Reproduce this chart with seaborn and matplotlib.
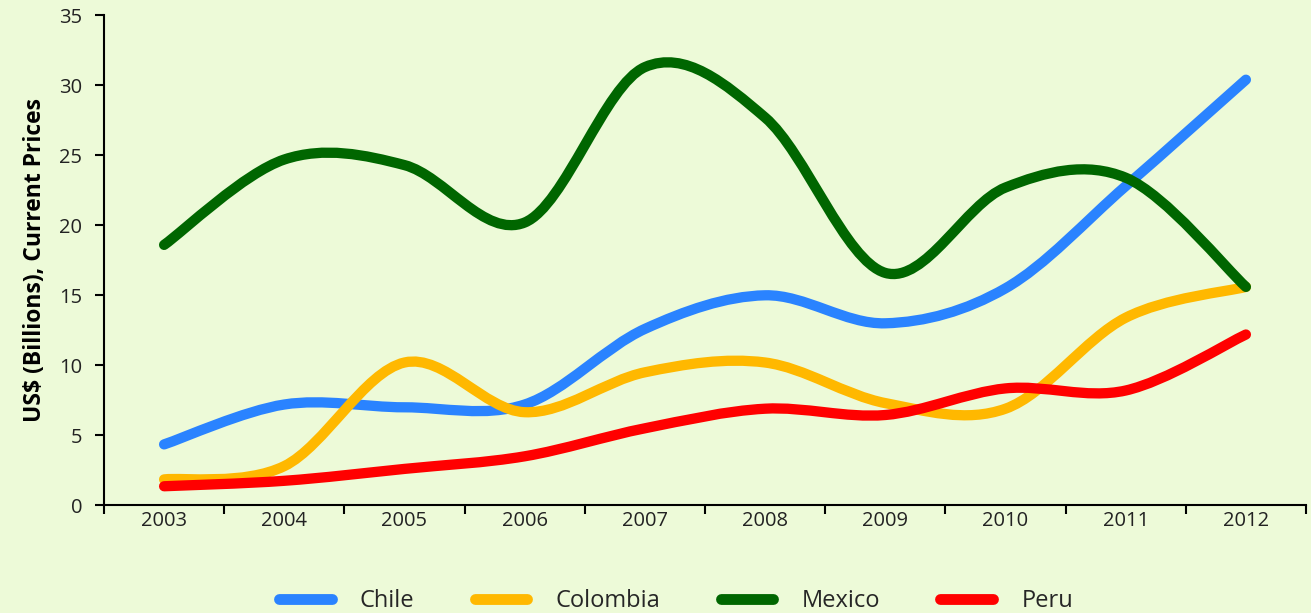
"""
plot.py
Foreign direct investment inflows, Pacific Alliance countries, 2003-2012.
Smooth (Catmull-Rom) lines through the yearly values.
"""

import numpy as np
import pandas as pd
import matplotlib
matplotlib.use("Agg")
import matplotlib.pyplot as plt
from matplotlib.path import Path
from matplotlib.patches import PathPatch
from matplotlib.lines import Line2D
import seaborn as sns

# ── Data ──────────────────────────────────────────────────────────────────────
YEARS = ["2003", "2004", "2005", "2006", "2007",
         "2008", "2009", "2010", "2011", "2012"]
CHILE    = [4.35, 7.2, 7.0, 7.2, 12.6, 15.0, 13.0, 15.5, 22.8, 30.4]
COLOMBIA = [1.85, 2.8, 10.2, 6.65, 9.5, 10.2, 7.3, 6.9, 13.4, 15.6]
MEXICO   = [18.6, 24.7, 24.3, 20.2, 31.3, 27.7, 16.6, 22.7, 23.4, 15.6]
PERU     = [1.36, 1.75, 2.6, 3.5, 5.5, 6.9, 6.45, 8.35, 8.2, 12.2]
COUNTRIES = ["Chile", "Colombia", "Mexico", "Peru"]
Y_TICKS = [0, 5, 10, 15, 20, 25, 30, 35]
Y_LABEL = "US$ (Billions), Current Prices"

# ── Style ─────────────────────────────────────────────────────────────────────
BG = "#EDFAD8"
PALETTE = dict(zip(COUNTRIES, sns.color_palette(
    ["#2A83FF", "#FFB800", "#006600", "#FF0000"])))

sns.set_theme(style="ticks", rc={
    "figure.facecolor": BG,
    "axes.facecolor":   BG,
    "axes.edgecolor":   "black",
    "axes.linewidth":   1.5,
    "xtick.color":      "black",
    "ytick.color":      "black",
    "xtick.labelcolor": "#222222",
    "ytick.labelcolor": "#222222",
})
plt.rcParams["font.family"] = ["Open Sans", "DejaVu Sans"]


def smooth_path(xs, ys):
    """Cubic Bezier path passing through every point (Catmull-Rom tangents)."""
    pts = np.column_stack([xs, ys]).astype(float)
    n = len(pts)
    verts, codes = [pts[0]], [Path.MOVETO]
    for i in range(n - 1):
        p0 = pts[max(i - 1, 0)]
        p1, p2 = pts[i], pts[i + 1]
        p3 = pts[min(i + 2, n - 1)]
        verts += [p1 + (p2 - p0) / 6, p2 - (p3 - p1) / 6, p2]
        codes += [Path.CURVE4] * 3
    return Path(verts, codes)


df = pd.DataFrame({"Year": YEARS, "Chile": CHILE, "Colombia": COLOMBIA,
                   "Mexico": MEXICO, "Peru": PERU})
long = df.melt(id_vars="Year", var_name="Country", value_name="FDI")
long["pos"] = long["Year"].map({y: i for i, y in enumerate(YEARS)})

# ── Figure ────────────────────────────────────────────────────────────────────
fig = plt.figure(figsize=(13.11, 6.13), dpi=100)
ax = fig.add_axes([104 / 1311, 1 - 505.3 / 613, 1202 / 1311, 490 / 613])

for country in COUNTRIES:
    sub = long[long["Country"] == country].sort_values("pos")
    ax.add_patch(PathPatch(smooth_path(sub["pos"], sub["FDI"]), fill=False,
                           edgecolor=PALETTE[country], linewidth=7.4,
                           capstyle="round", joinstyle="round"))

ax.set_xlim(-0.5, len(YEARS) - 0.5)
ax.set_ylim(0, 35)

# year boundaries carry the tick marks, labels sit at the centres
ax.set_xticks(np.arange(len(YEARS) + 1) - 0.5)
ax.set_xticklabels([])
ax.set_xticks(np.arange(len(YEARS)), minor=True)
ax.set_xticklabels(YEARS, minor=True, fontsize=14.5)
ax.tick_params(axis="x", which="major", length=6.5, width=1.5, direction="out")
ax.tick_params(axis="x", which="minor", length=0, pad=4)

ax.set_yticks(Y_TICKS)
ax.set_yticklabels([str(t) for t in Y_TICKS], fontsize=14.5)
ax.tick_params(axis="y", length=6.5, width=1.5, direction="out", pad=9)

ax.set_ylabel(Y_LABEL, fontsize=16.5, fontweight="bold", color="black")
ax.yaxis.set_label_coords(-0.0474, 0.5)
sns.despine(ax=ax)

handles = [Line2D([], [], color=PALETTE[c], linewidth=7.8,
                  solid_capstyle="round") for c in COUNTRIES]
fig.legend(handles, COUNTRIES, loc="center", ncol=4, frameon=False,
           bbox_to_anchor=(0.5157, 1 - 601 / 613), fontsize=17,
           handlelength=2.23, handletextpad=1.2, columnspacing=2.55)

fig.savefig("out.png", dpi=100, facecolor=BG)
